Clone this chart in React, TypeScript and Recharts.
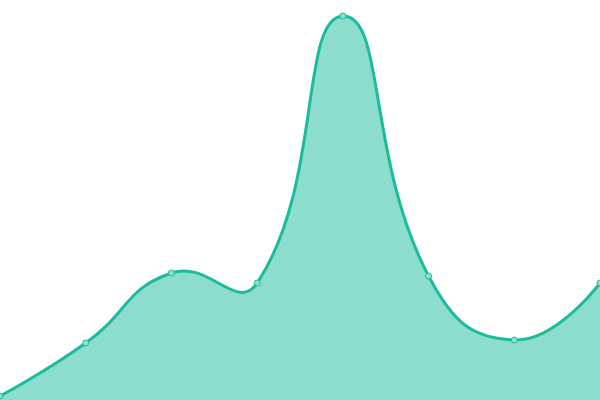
import { AreaChart, Area, XAxis, YAxis } from 'recharts';

const CATEGORIES = ['A', 'B', 'C', 'D', 'E', 'F', 'G', 'H'];
const VALUES = [4, 57, 127, 117, 384, 124, 60, 117];

const LINE = '#1abc9c';
const FILL = '#1abc9c';
const SMOOTH = 0.5;

const data = CATEGORIES.map((name, i) => ({ name, value: VALUES[i] }));

// bezier smoothing curve (control points along prev->next, scaled by segment lengths)
function drawSmooth(ctx: any, pts: number[][], join: boolean) {
  const n = pts.length;
  if (!n) return;
  const [x0, y0] = pts[0];
  if (join) ctx.lineTo(x0, y0);
  else ctx.moveTo(x0, y0);
  let cpx0 = x0;
  let cpy0 = y0;
  for (let i = 1; i < n; i++) {
    const [x, y] = pts[i];
    const [px, py] = pts[i - 1];
    let cpx1 = x, cpy1 = y, ncx = x, ncy = y;
    if (i < n - 1) {
      const [nx, ny] = pts[i + 1];
      const vx = nx - px;
      const vy = ny - py;
      const l0 = Math.hypot(x - px, y - py);
      const l1 = Math.hypot(nx - x, ny - y);
      const r = l0 + l1 ? l1 / (l0 + l1) : 0.5;
      cpx1 = x - vx * SMOOTH * (1 - r);
      cpy1 = y - vy * SMOOTH * (1 - r);
      ncx = x + vx * SMOOTH * r;
      ncy = y + vy * SMOOTH * r;
    }
    ctx.bezierCurveTo(cpx0, cpy0, cpx1, cpy1, x, y);
    cpx0 = ncx;
    cpy0 = ncy;
  }
}

function smoothCurve(context: any) {
  let pts: number[][] = [];
  let line = NaN;
  return {
    areaStart() { line = 0; },
    areaEnd() { line = NaN; },
    lineStart() { pts = []; },
    lineEnd() {
      drawSmooth(context, pts, line === 1);
      if (line || (line !== 0 && pts.length === 1)) context.closePath();
      line = 1 - line;
    },
    point(x: number, y: number) { pts.push([+x, +y]); },
  };
}

export default function App() {
  return (
    <div style={{ position: 'absolute', top: 0, left: 0, width: 600, height: 400 }}>
      <AreaChart width={600} height={400} data={data} margin={{ top: 0, right: 0, bottom: 0, left: 0 }}>
        <XAxis dataKey="name" hide />
        <YAxis hide domain={[0, 400]} />
        <Area
          type={smoothCurve as any}
          dataKey="value"
          stroke={LINE}
          strokeWidth={3}
          fill={FILL}
          fillOpacity={0.5}
          dot={{ r: 3, fill: '#8fe0d0', stroke: LINE, strokeWidth: 1, fillOpacity: 1 }}
          activeDot={false}
          isAnimationActive={false}
        />
      </AreaChart>
    </div>
  );
}
